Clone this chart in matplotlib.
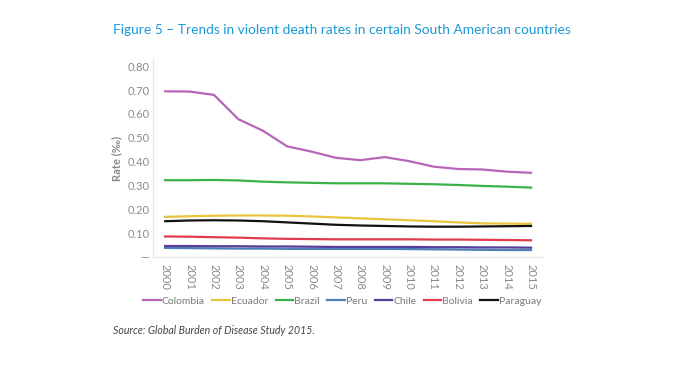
import matplotlib.pyplot as plt
import numpy as np

plt.rcParams['font.family'] = ['Lato', 'DejaVu Sans']

years = [str(y) for y in range(2000, 2016)]
colombia = [0.695, 0.694, 0.680, 0.578, 0.530, 0.464, 0.442, 0.416, 0.406, 0.419, 0.402, 0.379, 0.369, 0.367, 0.358, 0.353]
ecuador = [0.168, 0.171, 0.173, 0.174, 0.174, 0.173, 0.170, 0.166, 0.162, 0.158, 0.154, 0.150, 0.145, 0.141, 0.140, 0.139]
brazil = [0.322, 0.322, 0.323, 0.321, 0.316, 0.313, 0.311, 0.309, 0.309, 0.309, 0.307, 0.305, 0.302, 0.298, 0.295, 0.291]
peru = [0.038, 0.037, 0.036, 0.035, 0.035, 0.034, 0.034, 0.034, 0.034, 0.034, 0.033, 0.032, 0.031, 0.030, 0.029, 0.029]
chile = [0.046, 0.046, 0.045, 0.045, 0.044, 0.044, 0.043, 0.042, 0.042, 0.042, 0.042, 0.041, 0.041, 0.040, 0.040, 0.039]
bolivia = [0.086, 0.085, 0.083, 0.081, 0.078, 0.076, 0.075, 0.074, 0.074, 0.074, 0.074, 0.073, 0.073, 0.072, 0.071, 0.070]
paraguay = [0.150, 0.153, 0.154, 0.153, 0.150, 0.145, 0.140, 0.135, 0.132, 0.130, 0.128, 0.127, 0.127, 0.128, 0.129, 0.130]

series = [("Colombia", colombia, "#b566b9"),
          ("Ecuador", ecuador, "#e8c53a"),
          ("Brazil", brazil, "#3cb14a"),
          ("Peru", peru, "#4f80b8"),
          ("Chile", chile, "#583d99"),
          ("Bolivia", bolivia, "#e03b4d"),
          ("Paraguay", paraguay, "#111111")]

fig = plt.figure(figsize=(6.74, 3.65), dpi=100)
ax = fig.add_axes([0.227, 0.296, 0.579, 0.542])

x = np.arange(len(years))
for name, vals, col in series:
    ax.plot(x, vals, color=col, lw=1.6, label=name)

ax.set_xlim(-0.5, len(years) - 0.5)
ax.set_ylim(0, 0.83)
yt = np.arange(0, 0.81, 0.1)
ax.set_yticks(yt)
ax.set_yticklabels(["\u2014"] + ["%.2f" % v for v in yt[1:]])
ax.set_xticks(x)
ax.set_xticklabels(years, rotation=-90)
ax.tick_params(axis='both', length=0, labelsize=8, labelcolor="#8a8a8a")
ax.tick_params(axis='y', pad=2.5)
ax.tick_params(axis='x', pad=5)

for s in ["top", "right"]:
    ax.spines[s].set_visible(False)
for s in ["left", "bottom"]:
    ax.spines[s].set_color("#e6e6e6")
    ax.spines[s].set_linewidth(1.0)

ax.set_ylabel("Rate (\u2030)", fontsize=8, color="#8a8a8a", fontweight="bold", labelpad=4)

fig.legend(loc="center", bbox_to_anchor=(0.508, 0.175), ncol=7, frameon=False,
           fontsize=7.5, labelcolor="#7a7a7a", handlelength=1.7, handletextpad=0.1,
           columnspacing=0.7)

fig.text(0.168, 0.918, "Figure 5 \u2013 Trends in violent death rates in certain South American countries",
         fontsize=9.9, color="#1b9ad6", va="center")
fig.text(0.168, 0.095, "Source: Global Burden of Disease Study 2015.",
         fontsize=7.6, color="#444444", style="italic", va="center")

fig.savefig("out.png", dpi=100)
